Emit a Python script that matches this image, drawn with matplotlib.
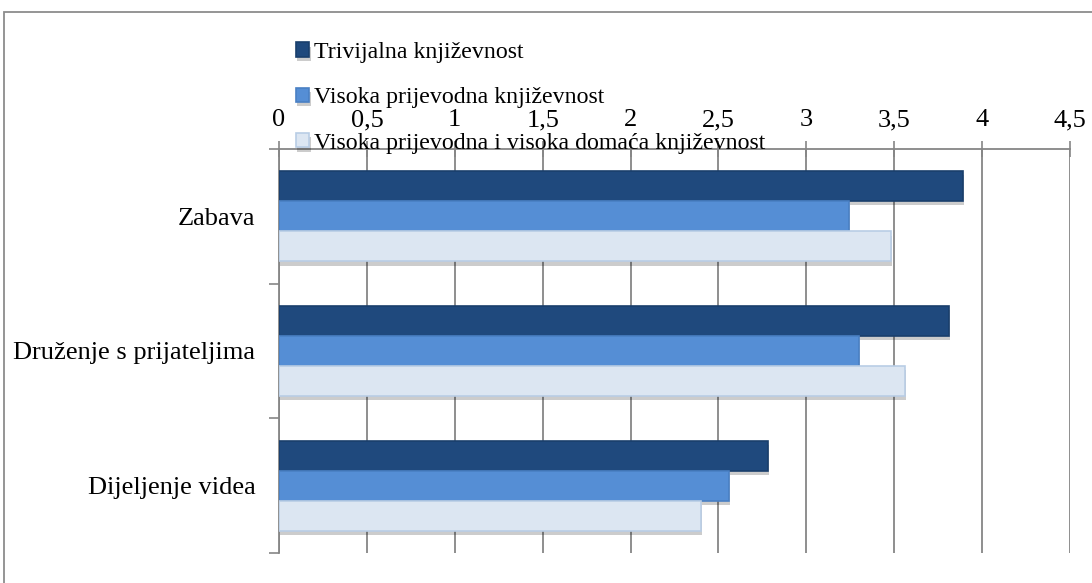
import matplotlib
matplotlib.use('Agg')
import matplotlib.pyplot as plt
import matplotlib.patches as mpatches
import matplotlib.patheffects as pe
import numpy as np

categories = ['Zabava', 'Druženje s prijateljima', 'Dijeljenje videa']
series_names = ['Trivijalna književnost',
                'Visoka prijevodna književnost',
                'Visoka prijevodna i visoka domaća književnost']
trivijalna = [3.89, 3.81, 2.78]
visoka_prijevodna = [3.24, 3.30, 2.56]
visoka_obje = [3.48, 3.56, 2.40]
x_ticks = [0, 0.5, 1, 1.5, 2, 2.5, 3, 3.5, 4, 4.5]
x_tick_labels = ['0', '0,5', '1', '1,5', '2', '2,5', '3', '3,5', '4', '4,5']

colors = ['#1F497D', '#558ED5', '#DCE6F2']
edges = ['#1A3F6C', '#4A80C4', '#B9CDE5']

plt.rcParams['font.family'] = ['Liberation Serif', 'DejaVu Serif']

fig = plt.figure(figsize=(10.92, 5.83), dpi=100)
ax = fig.add_axes([0.2555, 0.0515, 0.7244, 0.6929])

# outer chart frame
frame = mpatches.Rectangle((4 / 1092, -0.2), 1.2, 0.2 + 1 - 12 / 583,
                           transform=fig.transFigure, fill=False,
                           edgecolor='#8C8C8C', linewidth=1.3, clip_on=False)
fig.add_artist(frame)

y = np.arange(len(categories))
h = 0.223
shadow = [pe.SimplePatchShadow(offset=(1, -3), shadow_rgbFace='#000000', alpha=0.2), pe.Normal()]
for i, vals in enumerate([trivijalna, visoka_prijevodna, visoka_obje]):
    bars = ax.barh(y + (i - 1) * h, vals, height=h, color=colors[i],
                   edgecolor=edges[i], linewidth=1.2, label=series_names[i], zorder=3)
    for b in bars:
        b.set_path_effects(shadow)

ax.set_xlim(0, 4.5)
ax.set_ylim(2.5, -0.5)
ax.set_xticks(x_ticks)
ax.set_xticklabels(x_tick_labels)
ax.xaxis.tick_top()
ax.tick_params(axis='x', which='major', direction='inout', length=12, width=1.2,
               color='#868686', labelsize=19, pad=7)
ax.grid(axis='x', color='#868686', linewidth=1.3, zorder=0)

ax.set_yticks(y)
ax.set_yticklabels(categories)
ax.set_yticks([-0.5, 0.5, 1.5, 2.5], minor=True)
ax.tick_params(axis='y', which='major', length=0, labelsize=19, pad=17)
ax.tick_params(axis='y', which='minor', direction='out', length=7, width=1.2, color='#868686')

for s in ['right', 'bottom']:
    ax.spines[s].set_visible(False)
for s in ['left', 'top']:
    ax.spines[s].set_color('#868686')
    ax.spines[s].set_linewidth(1.3)

fig.legend(loc='upper left', bbox_to_anchor=(296 / 1092, 1 - 42 / 583),
           frameon=False, fontsize=17.2, handlelength=0.55, handleheight=0.55,
           handletextpad=0.22, labelspacing=1.02, borderpad=0, borderaxespad=0)

plt.savefig('out.png', dpi=100)
